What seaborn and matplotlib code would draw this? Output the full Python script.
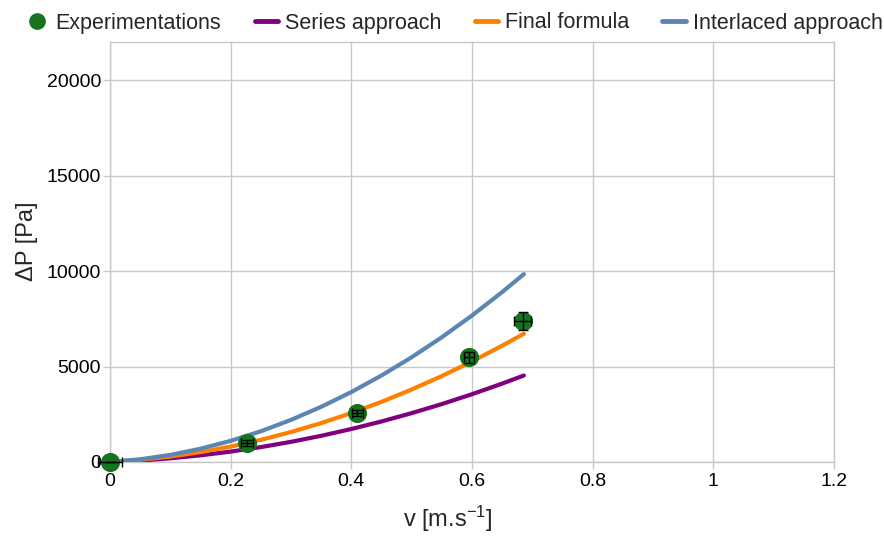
import matplotlib
matplotlib.use("Agg")
import matplotlib.pyplot as plt
import seaborn as sns
import pandas as pd
from matplotlib.lines import Line2D

# ---- data ----
v_curve = [0, 0.05, 0.1, 0.15, 0.2, 0.25, 0.3, 0.35, 0.4, 0.45, 0.5, 0.55, 0.6, 0.65, 0.686]
series_approach = [0, 76, 192, 349, 545, 780, 1056, 1372, 1729, 2124, 2560, 3035, 3551, 4107, 4532]
final_formula = [0, 114, 286, 518, 810, 1160, 1569, 2037, 2565, 3151, 3798, 4503, 5267, 6090, 6719]
interlaced_approach = [0, 141, 372, 695, 1107, 1611, 2205, 2890, 3665, 4531, 5488, 6535, 7673, 8901, 9842]

v_exp = [0, 0.227, 0.410, 0.595, 0.684]
dp_exp = [0, 995, 2582, 5480, 7382]
v_err = [0.02, 0.010, 0.0097, 0.008, 0.014]
dp_err = [0, 140, 157, 300, 480]

x_ticks = [0, 0.2, 0.4, 0.6, 0.8, 1, 1.2]
x_ticklabels = ["0", "0.2", "0.4", "0.6", "0.8", "1", "1.2"]
y_ticks = [0, 5000, 10000, 15000, 20000]

names = ["Series approach", "Final formula", "Interlaced approach"]
colors = {"Series approach": "#800080", "Final formula": "#ff8000",
          "Interlaced approach": "#5b86b4"}
green = "#17731d"

curves = pd.DataFrame({
    "v": v_curve * 3,
    "dP": series_approach + final_formula + interlaced_approach,
    "model": sum([[n] * len(v_curve) for n in names], []),
})
exp = pd.DataFrame({"v": v_exp, "dP": dp_exp})

sns.set_theme(style="whitegrid")
plt.rcParams["font.family"] = ["Liberation Sans", "DejaVu Sans"]
plt.rcParams["mathtext.fontset"] = "custom"
plt.rcParams["mathtext.rm"] = "Liberation Sans"
plt.rcParams["mathtext.it"] = "Liberation Sans:italic"
plt.rcParams["mathtext.default"] = "regular"

fig = plt.figure(figsize=(8.84, 5.36), dpi=100)
ax = fig.add_axes([110 / 884, 1 - 462 / 536, (834 - 110) / 884, (462 - 42) / 536])

sns.lineplot(data=curves, x="v", y="dP", hue="model", palette=colors,
             hue_order=names, linewidth=3.0, ax=ax, legend=False, zorder=3)
sns.scatterplot(data=exp, x="v", y="dP", color=green, s=190, edgecolor=green,
                linewidth=0, ax=ax, zorder=4, legend=False, clip_on=False)
eb = ax.errorbar(v_exp, dp_exp, xerr=v_err, yerr=dp_err, fmt="none", ecolor="black",
                 elinewidth=1, capsize=3.5, capthick=1, zorder=6)
for art in list(eb.lines[1]) + list(eb.lines[2]):
    art.set_clip_on(False)

ax.set_xlim(0, 1.2)
ax.set_ylim(0, 22000)
ax.set_xticks(x_ticks)
ax.set_xticklabels(x_ticklabels)
ax.set_yticks(y_ticks)
ax.grid(True, color="#c8c8c8", linewidth=1)
for s in ax.spines.values():
    s.set_color("#c8c8c8")
    s.set_linewidth(1)
ax.tick_params(axis="both", which="both", length=5, width=1, color="#c8c8c8",
               labelsize=14, labelcolor="black", direction="out",
               bottom=True, left=True)
ax.tick_params(axis="y", pad=1.5)
ax.tick_params(axis="x", pad=3)
ax.set_xlabel("v [m.s$^{-1}$]", fontsize=17)
ax.set_ylabel("ΔP [Pa]", fontsize=17)
ax.xaxis.set_label_coords((448 - 110) / 724, -(504 - 462) / 420)
ax.yaxis.set_label_coords(-(110 - 38) / 724, (462 - 241) / 420)

handles = [Line2D([], [], marker="o", linestyle="none", color=green, markersize=11)]
handles += [Line2D([], [], color=colors[n], linewidth=3.5) for n in names]
labels = ["Experimentations"] + names
fig.legend(handles, labels, loc="center", bbox_to_anchor=(0.5 + 12 / 884, 1 - 23 / 536),
           ncol=4, frameon=False, fontsize=15.5, handlelength=1.1, handletextpad=0.3,
           columnspacing=1.55)

fig.savefig("out.png", dpi=100)
